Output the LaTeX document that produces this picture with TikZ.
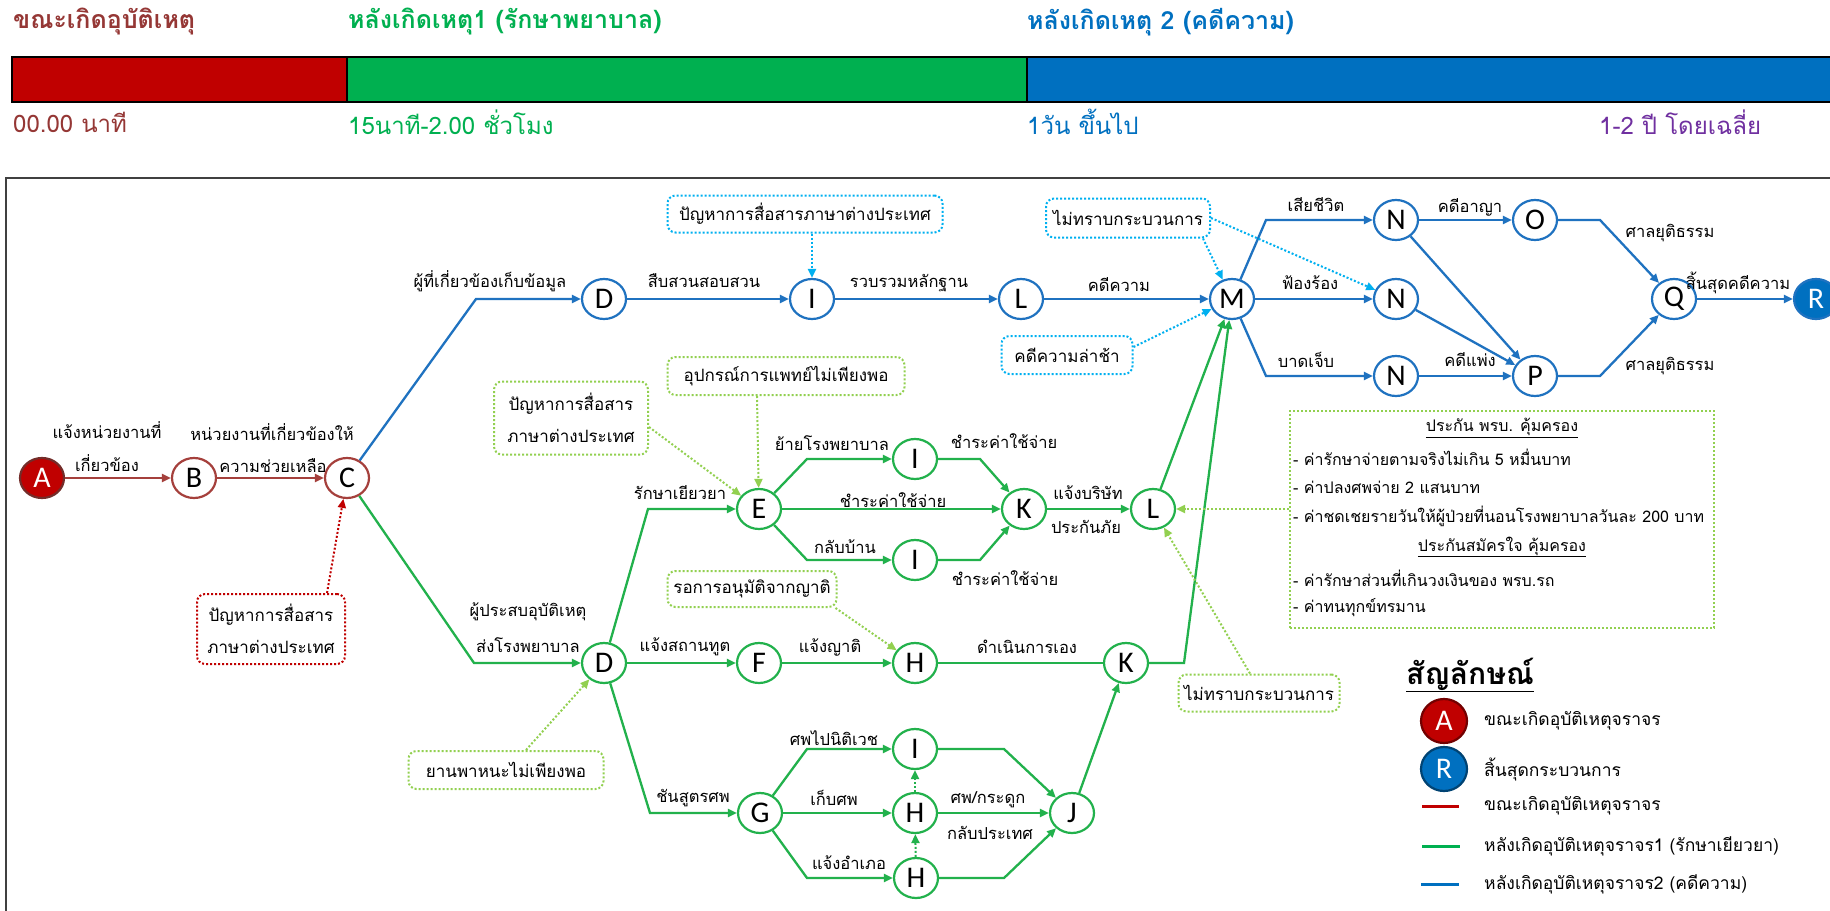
\documentclass[tikz,border=0pt]{standalone}
\usepackage{fontspec}
\usetikzlibrary{arrows.meta,shapes.geometric}
\newfontfamily\thaifont[Script=Thai]{Loma}
\newfontfamily\latinfont{Carlito}
\definecolor{barred}{HTML}{C00000}
\definecolor{bargreen}{HTML}{00B050}
\definecolor{barblue}{HTML}{0070C0}
\definecolor{redline}{HTML}{A5403C}
\definecolor{greenline}{HTML}{22B14C}
\definecolor{blueline}{HTML}{1F72C0}
\definecolor{dotgreen}{HTML}{92D050}
\definecolor{dotblue}{HTML}{00B0F0}
\definecolor{purpletext}{HTML}{7030A0}
\definecolor{headred}{HTML}{953735}
\definecolor{framegray}{HTML}{404040}

\tikzset{
  stage/.style={ellipse, minimum width=44pt, minimum height=40pt, inner sep=0pt,
    line width=2.2pt, fill=white, font=\latinfont\fontsize{30}{30}\selectfont},
  rnode/.style={stage, draw=redline},
  gnode/.style={stage, draw=greenline},
  bnode/.style={stage, draw=blueline},
  tip/.style={-{Triangle[length=9pt,width=8pt]}},
  redge/.style={draw=redline, line width=2.3pt, tip},
  gedge/.style={draw=greenline, line width=2.3pt, tip},
  bedge/.style={draw=blueline, line width=2.3pt, tip},
  lbl/.style={font=\thaifont\fontsize{16.5}{16.5}\selectfont, inner sep=0pt},
  note/.style={rounded corners=8pt, line width=2pt, dash pattern=on 2pt off 2pt,
    inner sep=0pt, align=center, font=\thaifont\fontsize{17}{32}\selectfont},
  gnote/.style={note, draw=dotgreen},
  bnote/.style={note, draw=dotblue},
  rnote/.style={note, draw=barred},
  darrow/.style={line width=2pt, dash pattern=on 2pt off 2pt,
    -{Triangle[length=9pt,width=8pt]}},
  head/.style={font=\thaifont\bfseries\fontsize{25}{25}\selectfont, anchor=west, inner sep=0pt},
  sub/.style={font=\thaifont\fontsize{24}{24}\selectfont, anchor=west, inner sep=0pt},
  legtext/.style={font=\thaifont\fontsize{17.5}{17.5}\selectfont, anchor=west, inner sep=0pt},
  instext/.style={font=\thaifont\fontsize{16}{16}\selectfont, inner sep=0pt},
}

\begin{document}
\begin{tikzpicture}[x=1pt,y=-1pt]
\useasboundingbox (0,0) rectangle (1830,910);
\fill[white] (0,0) rectangle (1830,910);

% time bar
\begin{scope}[draw=black, line width=1.4pt]
  \filldraw[fill=barred] (12,57) rectangle (347,102);
  \filldraw[fill=bargreen] (347,57) rectangle (1027,102);
  \filldraw[fill=barblue] (1027,57) rectangle (1835,102);
\end{scope}
\node[head, text=headred] (h1) at (13,22) {ขณะเกิดอุบัติเหตุ};
\node[head, text=bargreen] (h2) at (348,22) {หลังเกิดเหตุ1 (รักษาพยาบาล)};
\node[head, text=barblue] (h3) at (1027,22) {หลังเกิดเหตุ 2 (คดีความ)};
\node[sub, text=headred] (t1) at (13,122) {00.00 นาที};
\node[sub, text=bargreen] (t2) at (348,122) {15นาที-2.00 ชั่วโมง};
\node[sub, text=barblue] (t3) at (1027,122) {1วัน ขึ้นไป};
\node[sub, text=purpletext] (t4) at (1599,122) {1-2 ปี โดยเฉลี่ย};

% frame of the process chart
\draw[framegray, line width=1.6pt] (1840,178) -- (6,178) -- (6,920);

% ---------- nodes ----------
\node[stage, fill=barred, draw=redline!70!black, text=white] (A) at (42,478) {A};
\node[rnode] (B) at (194,478) {B};
\node[rnode] (C) at (347,478) {C};

\node[bnode] (Dt) at (604,299) {D};
\node[bnode] (It) at (812,299) {I};
\node[bnode] (Lt) at (1021,299) {L};
\node[bnode] (M) at (1232,299) {M};
\node[bnode] (N1) at (1396,220) {N};
\node[bnode] (O) at (1535,220) {O};
\node[bnode] (N2) at (1396,299) {N};
\node[bnode] (N3) at (1396,376) {N};
\node[bnode] (P) at (1535,376) {P};
\node[bnode] (Q) at (1674,299) {Q};
\node[stage, fill=barblue, draw=blueline, text=white] (R) at (1816,299) {R};

\node[gnode] (E) at (759,509) {E};
\node[gnode] (Ig1) at (915,459) {I};
\node[gnode] (Kg) at (1024,509) {K};
\node[gnode] (Ig2) at (915,560) {I};
\node[gnode] (Lg) at (1153,509) {L};
\node[gnode] (Dg) at (604,663) {D};
\node[gnode] (F) at (759,663) {F};
\node[gnode] (H) at (915,663) {H};
\node[gnode] (K2) at (1126,663) {K};
\node[gnode] (G) at (760,813) {G};
\node[gnode] (I3) at (915,749) {I};
\node[gnode] (H2) at (915,813) {H};
\node[gnode] (H3) at (916,878) {H};
\node[gnode] (J) at (1072,813) {J};

% ---------- connectors ----------
\draw[redge] (A) -- (B);
\draw[redge] (B) -- (C);

\draw[bedge] (C) -- (476,299) -- (Dt);
\draw[bedge] (Dt) -- (It);
\draw[bedge] (It) -- (Lt);
\draw[bedge] (Lt) -- (M);
\draw[bedge] (M) -- (1266,220) -- (N1);
\draw[bedge] (M) -- (N2);
\draw[bedge] (M) -- (1266,376) -- (N3);
\draw[bedge] (N1) -- (O);
\draw[bedge] (N3) -- (P);
\draw[bedge] (N1) -- (P);
\draw[bedge] (N2) -- (P);
\draw[bedge] (O) -- (1600,220) -- (Q);
\draw[bedge] (P) -- (1600,376) -- (Q);
\draw[bedge] (Q) -- (R);

\draw[gedge] (C) -- (474,663) -- (Dg);
\draw[gedge] (Dg) -- (648,509) -- (E);
\draw[gedge] (Dg) -- (F);
\draw[gedge] (Dg) -- (650,813) -- (G);
\draw[gedge] (E) -- (807,459) -- (Ig1);
\draw[gedge] (E) -- (Kg);
\draw[gedge] (E) -- (807,560) -- (Ig2);
\draw[gedge] (Ig1) -- (980,459) -- (Kg);
\draw[gedge] (Ig2) -- (980,560) -- (Kg);
\draw[gedge] (Kg) -- (Lg);
\draw[gedge] (Lg) -- (M);
\draw[gedge] (F) -- (H);
\draw[greenline, line width=2.3pt] (H) -- (K2);
\draw[gedge] (K2) -- (1184,663) -- (M);
\draw[gedge] (G) -- (807,749) -- (I3);
\draw[gedge] (G) -- (H2);
\draw[gedge] (G) -- (807,878) -- (H3);
\draw[gedge] (I3) -- (1004,749) -- (J);
\draw[gedge] (H2) -- (J);
\draw[gedge] (H3) -- (1004,878) -- (J);
\draw[gedge] (J) -- (K2);
\draw[darrow, greenline] (H2) -- (I3);
\draw[darrow, greenline] (H3) -- (H2);

% ---------- connector labels ----------
\node[lbl] (lAB1) at (107,430) {แจ้งหน่วยงานที่};
\node[lbl] (lAB2) at (107,463) {เกี่ยวข้อง};
\node[lbl] (lBC1) at (272,432) {หน่วยงานที่เกี่ยวข้องให้};
\node[lbl] (lBC2) at (273,466) {ความช่วยเหลือ};
\node[lbl] (lCD) at (490,281) {ผู้ที่เกี่ยวข้องเก็บข้อมูล};
\node[lbl] (lCG1) at (528,612) {ผู้ประสบอุบัติเหตุ};
\node[lbl] (lCG2) at (528,645) {ส่งโรงพยาบาล};
\node[lbl] (lDI) at (704,281) {สืบสวนสอบสวน};
\node[lbl] (lIL) at (909,283) {รวบรวมหลักฐาน};
\node[lbl] (lLM) at (1119,285) {คดีความ};
\node[lbl] (lMN1) at (1316,205) {เสียชีวิต};
\node[lbl] (lMN2) at (1310,283) {ฟ้องร้อง};
\node[lbl] (lMN3) at (1306,360) {บาดเจ็บ};
\node[lbl] (lNO) at (1470,207) {คดีอาญา};
\node[lbl] (lNP) at (1470,360) {คดีแพ่ง};
\node[lbl] (lOQ) at (1670,233) {ศาลยุติธรรม};
\node[lbl] (lPQ) at (1670,366) {ศาลยุติธรรม};
\node[lbl] (lQR) at (1738,283) {สิ้นสุดคดีความ};
\node[lbl] (lDE) at (680,493) {รักษาเยียวยา};
\node[lbl] (lEI1) at (832,443) {ย้ายโรงพยาบาล};
\node[lbl] (lEK) at (893,500) {ชำระค่าใช้จ่าย};
\node[lbl] (lEI2) at (845,547) {กลับบ้าน};
\node[lbl] (lIK1) at (1004,441) {ชำระค่าใช้จ่าย};
\node[lbl] (lIK2) at (1005,578) {ชำระค่าใช้จ่าย};
\node[lbl] (lKL1) at (1088,493) {แจ้งบริษัท};
\node[lbl] (lKL2) at (1086,527) {ประกันภัย};
\node[lbl] (lDF) at (685,647) {แจ้งสถานทูต};
\node[lbl] (lFH) at (830,647) {แจ้งญาติ};
\node[lbl] (lHK) at (1027,647) {ดำเนินการเอง};
\node[lbl] (lDG) at (693,798) {ชันสูตรศพ};
\node[lbl] (lGI) at (834,738) {ศพไปนิติเวช};
\node[lbl] (lGH) at (834,798) {เก็บศพ};
\node[lbl] (lGH3) at (849,863) {แจ้งอำเภอ};
\node[lbl] (lHJ1) at (988,800) {ศพ/กระดูก};
\node[lbl] (lHJ2) at (990,833) {กลับประเทศ};

% ---------- problem notes ----------
\node[rnote, minimum width=148pt, minimum height=70pt] (rn) at (271,629) {ปัญหาการสื่อสาร\\ภาษาต่างประเทศ};
\node[bnote, minimum width=275pt, minimum height=37pt] (bn1) at (805,214) {ปัญหาการสื่อสารภาษาต่างประเทศ};
\node[bnote, minimum width=164pt, minimum height=39pt] (bn2) at (1128,218) {ไม่ทราบกระบวนการ};
\node[bnote, minimum width=131pt, minimum height=38pt] (bn3) at (1067,355) {คดีความล่าช้า};
\node[gnote, minimum width=154pt, minimum height=73pt] (gn1) at (571,418) {ปัญหาการสื่อสาร\\ภาษาต่างประเทศ};
\node[gnote, minimum width=237pt, minimum height=38pt] (gn2) at (786,376) {อุปกรณ์การแพทย์ไม่เพียงพอ};
\node[gnote, minimum width=169pt, minimum height=36pt] (gn3) at (752,589) {รอการอนุมัติจากญาติ};
\node[gnote, minimum width=195pt, minimum height=38pt] (gn4) at (506,770) {ยานพาหนะไม่เพียงพอ};
\node[gnote, minimum width=161pt, minimum height=37pt] (gn5) at (1259,693) {ไม่ทราบกระบวนการ};

\draw[darrow, barred] ([xshift=56pt]rn.north) -- (C);
\draw[darrow, dotblue] ([xshift=7pt]bn1.south) -- (It);
\draw[darrow, dotblue] ([xshift=-8pt]bn2.south east) -- (M);
\draw[darrow, dotblue] (bn2.east) -- (N2);
\draw[darrow, dotblue] ([yshift=8pt]bn3.east) -- (M);
\draw[darrow, dotgreen] ([yshift=-9pt]gn1.east) -- (E);
\draw[darrow, dotgreen] ([xshift=-29pt]gn2.south) -- (E);
\draw[darrow, dotgreen] ([xshift=-2pt]gn3.south east) -- (H);
\draw[darrow, dotgreen] ([xshift=20pt]gn4.north) -- (Dg);
\draw[darrow, dotgreen] ([xshift=-9pt]gn5.north) -- (Lg);

% ---------- insurance cover box ----------
\node[draw=dotgreen, line width=1.6pt, dash pattern=on 2pt off 2pt,
  minimum width=424pt, minimum height=217pt, inner sep=0pt] (ins) at (1502,519.5) {};
\draw[darrow, dotgreen] (ins.west |- Lg) -- (Lg);
\node[instext] (c1) at (1502,428) {\underline{ประกัน พรบ. คุ้มครอง}};
\node[instext, anchor=west] (c2) at (1293,457) {- ค่ารักษาจ่ายตามจริงไม่เกิน 5 หมื่นบาท};
\node[instext, anchor=west] (c3) at (1293,487) {- ค่าปลงศพจ่าย 2 แสนบาท};
\node[instext, anchor=west] (c4) at (1293,516) {- ค่าชดเชยรายวันให้ผู้ป่วยที่นอนโรงพยาบาลวันละ 200 บาท};
\node[instext] (c5) at (1502,547) {\underline{ประกันสมัครใจ คุ้มครอง}};
\node[instext, anchor=west] (c6) at (1293,578) {- ค่ารักษาส่วนที่เกินวงเงินของ พรบ.รถ};
\node[instext, anchor=west] (c7) at (1293,608) {- ค่าทนทุกข์ทรมาน};

% ---------- legend ----------
\node[font=\thaifont\bfseries\fontsize{30}{30}\selectfont, inner sep=0pt] (legtitle) at (1470,675) {\underline{สัญลักษณ์}};
\node[stage, fill=barred, draw=barred!60!black, minimum width=46pt, minimum height=44pt, text=white] (legA) at (1444,721) {A};
\node[stage, fill=barblue, draw=barblue!60!black, minimum width=46pt, minimum height=44pt, text=white] (legR) at (1444,769) {R};
\coordinate (lr1) at (1422,806); \coordinate (lr2) at (1459,806);
\coordinate (lg1) at (1422,846); \coordinate (lg2) at (1460,846);
\coordinate (lb1) at (1421,884); \coordinate (lb2) at (1459,884);
\draw[barred, line width=3pt] (lr1) -- (lr2);
\draw[bargreen, line width=3pt] (lg1) -- (lg2);
\draw[barblue, line width=3pt] (lb1) -- (lb2);
\node[legtext] (legtA) at (1484,721) {ขณะเกิดอุบัติเหตุจราจร};
\node[legtext] (legtR) at (1484,769) {สิ้นสุดกระบวนการ};
\node[legtext] (legt1) at (1484,806) {ขณะเกิดอุบัติเหตุจราจร};
\node[legtext] (legt2) at (1484,846) {หลังเกิดอุบัติเหตุจราจร1 (รักษาเยียวยา)};
\node[legtext] (legt3) at (1484,884) {หลังเกิดอุบัติเหตุจราจร2 (คดีความ)};
\end{tikzpicture}
\end{document}
